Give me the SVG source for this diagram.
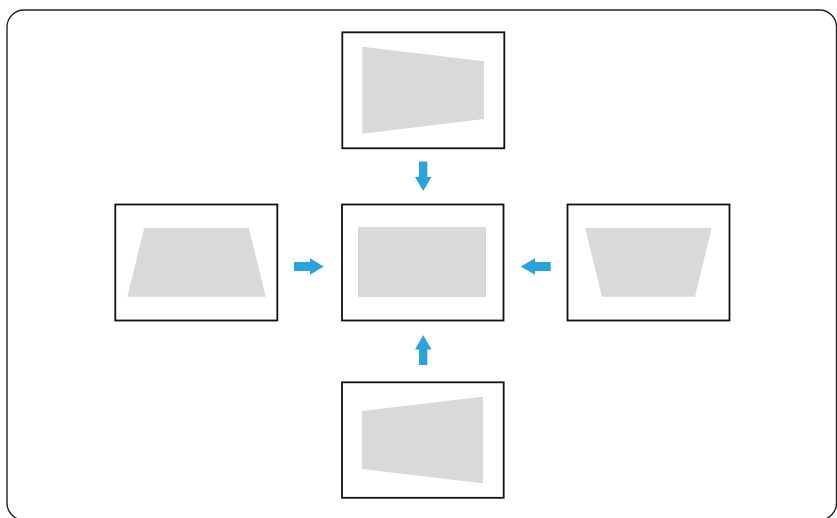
<svg xmlns="http://www.w3.org/2000/svg" width="837" height="518" viewBox="0 0 837 518">
<style>
.frame{fill:#fff;stroke:#222;stroke-width:1.4}
.box{fill:#fff;stroke:#111;stroke-width:1.8}
.screen{fill:#d9d9d9}
.arrow{fill:#29a3de}
</style>
<rect width="837" height="518" fill="#fff"/>
<rect class="frame" x="7" y="10" width="829.5" height="510" rx="17"/>
<g id="node-top">
<rect class="box" x="342.3" y="32.3" width="162" height="116"/>
<polygon class="screen" points="362.3,46.7 484,61.3 484,119 362.3,133.7"/>
</g>
<g id="node-center">
<rect class="box" x="342" y="204.5" width="161.5" height="116"/>
<rect class="screen" x="358" y="227" width="128" height="70"/>
</g>
<g id="node-left">
<rect class="box" x="115.3" y="204.5" width="162" height="116"/>
<polygon class="screen" points="144.3,227.7 248.7,227.7 265.7,296.7 127.3,296.7"/>
</g>
<g id="node-right">
<rect class="box" x="567.5" y="204.5" width="162" height="116"/>
<polygon class="screen" points="585,227.7 711.7,227.7 695,296.7 602,296.7"/>
</g>
<g id="node-bottom">
<rect class="box" x="342" y="382.3" width="161.7" height="115.5"/>
<polygon class="screen" points="361.7,411 483,396.7 483,483.3 361.7,469"/>
</g>
<g id="connectors">
<polygon class="arrow" points="419,161.5 427.3,161.5 427.3,177 431.5,177 423.2,191 415,177 419,177"/>
<polygon class="arrow" points="419,365 427.3,365 427.3,349.5 431.5,349.5 423.2,335 415,349.5 419,349.5"/>
<polygon class="arrow" points="294,262 310,262 310,258.3 323.7,266.5 310,274.7 310,271 294,271"/>
<polygon class="arrow" points="550.7,262 535,262 535,258.3 520.7,266.5 535,274.7 535,271 550.7,271"/>
</g>
</svg>
